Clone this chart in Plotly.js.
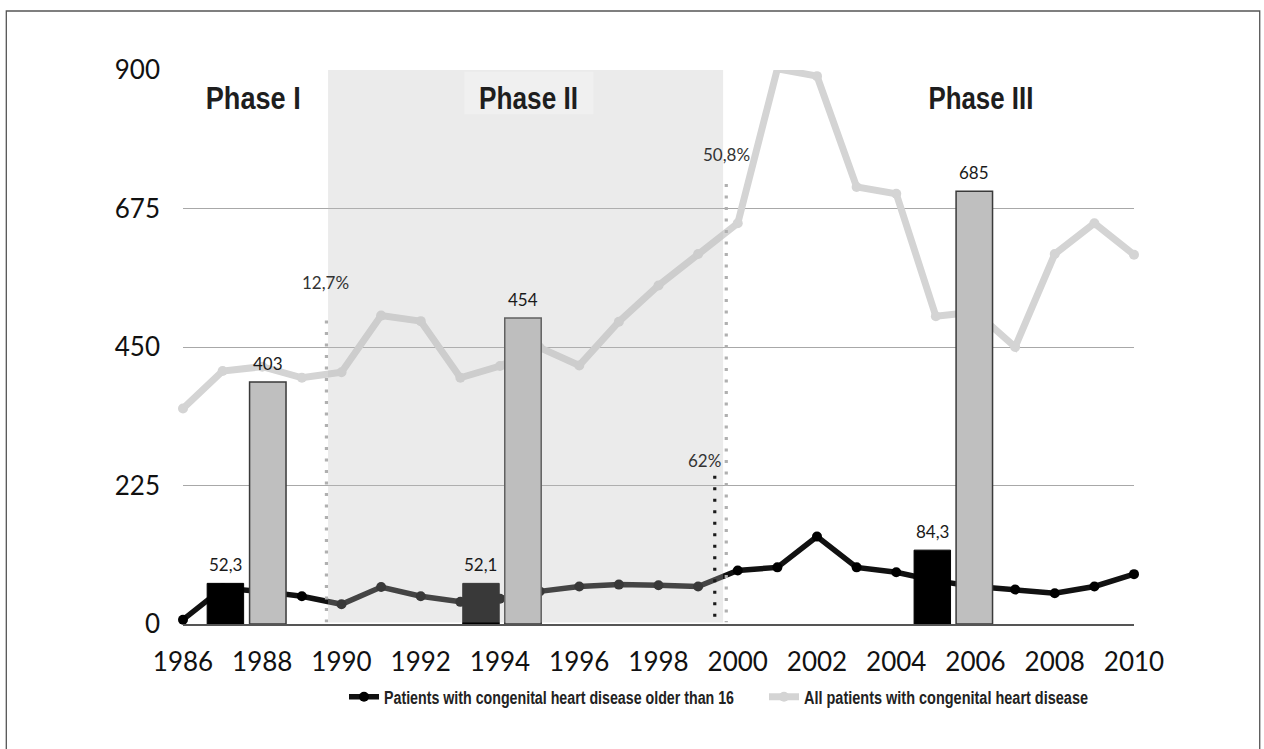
<!DOCTYPE html>
<html>
<head>
<meta charset="utf-8">
<script src="https://cdn.plot.ly/plotly-3.0.1.min.js"></script>
<style>
html,body{margin:0;padding:0;background:#ffffff;}
#chart{width:1264px;height:749px;}
</style>
</head>
<body>
<div id="chart"></div>
<script>
// ---- data ----
const years = [1986,1987,1988,1989,1990,1991,1992,1993,1994,1995,1996,1997,1998,1999,2000,2001,2002,2003,2004,2005,2006,2007,2008,2009,2010];
const olderThan16 = [7,58,53,45,32,60,45,36,41,53,61,64,63,61,87,92,142,92,84,70,61,56,50,61,81];
const allPatients = [350,411,418,400,409,501,492,400,419,449,420,491,550,601,651,902,890,710,699,500,507,450,601,651,600];

const barYearsOlder = [1987.07, 1993.52, 2004.91];
const barValuesOlder = [66, 66, 120];
const barLabelsOlder = ["52,3", "52,1", "84,3"];

const barYearsAll = [1988.14, 1994.58, 2005.97];
const barValuesAll = [393, 497, 703];
const barLabelsAll = ["403", "454", "685"];

const yTicks = [0, 225, 450, 675, 900];
const xTicks = [1986,1988,1990,1992,1994,1996,1998,2000,2002,2004,2006,2008,2010];

const phaseNames = ["Phase I", "Phase II", "Phase III"];
const percentLabels = ["12,7%", "50,8%", "62%"];
const seriesNames = ["Patients with congenital heart disease older than 16", "All patients with congenital heart disease"];

// ---- styles ----
const boldSans = "Liberation Sans, Arial, sans-serif";
const gill = "Lato, Open Sans, sans-serif";
const lightGray = "#d4d4d4";

const traces = [
  {
    type: "scatter", mode: "lines+markers", x: years, y: olderThan16,
    name: seriesNames[0], legendrank: 1,
    line: {color: "#111111", width: 5.5},
    marker: {color: "#000000", size: 10},
    cliponaxis: false, hoverinfo: "skip"
  },
  {
    type: "scatter", mode: "lines+markers", x: years, y: allPatients,
    name: seriesNames[1], legendrank: 2,
    line: {color: lightGray, width: 7},
    marker: {color: lightGray, size: 10},
    cliponaxis: false, hoverinfo: "skip"
  },
  {
    type: "bar", x: barYearsOlder, y: barValuesOlder, width: 0.92,
    xaxis: "x2", yaxis: "y2", showlegend: false,
    marker: {color: "#000000", line: {color: "#000000", width: 1}},
    hoverinfo: "skip"
  },
  {
    type: "bar", x: barYearsAll, y: barValuesAll, width: 0.92,
    xaxis: "x2", yaxis: "y2", showlegend: false,
    marker: {color: "#bfbfbf", line: {color: "#3a3a3a", width: 1.5}},
    hoverinfo: "skip"
  }
];

const annotations = [];
barYearsOlder.forEach((x, i) => annotations.push({
  x: x, y: barValuesOlder[i], xref: "x", yref: "y", text: barLabelsOlder[i],
  showarrow: false, yanchor: "bottom", yshift: 6,
  font: {family: gill, size: 17, color: "#1a1a1a"}
}));
barYearsAll.forEach((x, i) => annotations.push({
  x: x, y: barValuesAll[i], xref: "x", yref: "y", text: barLabelsAll[i],
  showarrow: false, yanchor: "bottom", yshift: 6,
  font: {family: gill, size: 17, color: "#1a1a1a"}
}));
const phaseFont = {family: boldSans, size: 31, weight: 700, color: "#1e1e1e"};
annotations.push({x: 1987.78, y: 854, xref: "x", yref: "y", text: phaseNames[0], showarrow: false, font: phaseFont});
annotations.push({x: 1994.72, y: 854, xref: "x", yref: "y", text: phaseNames[1], showarrow: false, font: phaseFont});
annotations.push({x: 2006.14, y: 854, xref: "x", yref: "y", text: phaseNames[2], showarrow: false, font: phaseFont});
const pctFont = {family: gill, size: 17, color: "#333333"};
annotations.push({x: 1989.60, y: 554, xref: "x", yref: "y", text: percentLabels[0], showarrow: false, font: pctFont});
annotations.push({x: 1999.72, y: 763, xref: "x", yref: "y", text: percentLabels[1], showarrow: false, font: pctFont});
annotations.push({x: 1999.15, y: 265, xref: "x", yref: "y", text: percentLabels[2], showarrow: false, font: pctFont});

const dotDash = "3px,8.5px";
const shapes = [
  {type: "rect", xref: "x", yref: "y", x0: 1989.66, x1: 1999.63, y0: 2.5, y1: 900,
   fillcolor: "rgba(190,190,190,0.3)", line: {width: 0}, layer: "above"},
  {type: "rect", xref: "x", yref: "y", x0: 1993.10, x1: 1996.36, y0: 828, y1: 897,
   fillcolor: "#f0f0f0", line: {width: 0}, layer: "above"},
  {type: "line", xref: "x", yref: "y", x0: 1989.62, x1: 1989.62, y0: 493, y1: 3,
   line: {color: "#b0b0b0", width: 3.2, dash: dotDash}, layer: "above"},
  {type: "line", xref: "x", yref: "y", x0: 1999.71, x1: 1999.71, y0: 715, y1: 3,
   line: {color: "#b0b0b0", width: 3.2, dash: dotDash}, layer: "above"},
  {type: "line", xref: "x", yref: "y", x0: 1999.42, x1: 1999.42, y0: 241, y1: 3,
   line: {color: "#1a1a1a", width: 3.2, dash: dotDash}, layer: "above"},
  {type: "rect", xref: "paper", yref: "paper", x0: -0.1858, x1: 1.1322, y0: -0.35, y1: 1.1065,
   line: {color: "#555555", width: 1.3}, fillcolor: "rgba(0,0,0,0)", layer: "above"}
];

const layout = {
  width: 1264, height: 749,
  margin: {l: 183, r: 130, t: 70, b: 125},
  paper_bgcolor: "#ffffff", plot_bgcolor: "#ffffff",
  barmode: "overlay",
  showlegend: true,
  xaxis: {
    range: [1986, 2010], tickvals: xTicks, ticktext: xTicks.map(String),
    showgrid: false, zeroline: false, showline: true, linecolor: "#555555", linewidth: 1.5,
    ticks: "", ticklabelstandoff: 14,
    tickfont: {family: gill, size: 26, color: "#111111"}, fixedrange: true
  },
  yaxis: {
    range: [0, 900], tickvals: yTicks, ticktext: yTicks.map(String),
    showgrid: true, gridcolor: "#a8a8a8", gridwidth: 1, zeroline: false, showline: false,
    ticks: "", ticklabelstandoff: 22,
    tickfont: {family: gill, size: 26, color: "#111111"}, fixedrange: true
  },
  xaxis2: {range: [1986, 2010], overlaying: "x", anchor: "y2", visible: false, fixedrange: true},
  yaxis2: {range: [0, 900], overlaying: "y", anchor: "x2", visible: false, fixedrange: true},
  legend: {
    orientation: "h", x: 0.1693, y: -0.1318, xanchor: "left", yanchor: "middle",
    font: {family: boldSans, size: 18, weight: 700, color: "#222222"},
    bgcolor: "rgba(0,0,0,0)", itemwidth: 30, entrywidth: 375, entrywidthmode: "pixels",
    traceorder: "normal"
  },
  shapes: shapes,
  annotations: annotations
};

// condensed look: squeeze the bold labels to the widths seen in the original
const squeeze = {};
squeeze[phaseNames[0]] = 95;
squeeze[phaseNames[1]] = 99;
squeeze[phaseNames[2]] = 105;
squeeze[seriesNames[0]] = 350;
squeeze[seriesNames[1]] = 284;

Plotly.newPlot("chart", traces, layout, {displayModeBar: false, staticPlot: true}).then(gd => {
  gd.querySelectorAll("text.annotation-text, text.legendtext").forEach(t => {
    const w = squeeze[t.textContent];
    if (w) {
      t.setAttribute("textLength", w);
      t.setAttribute("lengthAdjust", "spacingAndGlyphs");
    }
  });
});
</script>
</body>
</html>
